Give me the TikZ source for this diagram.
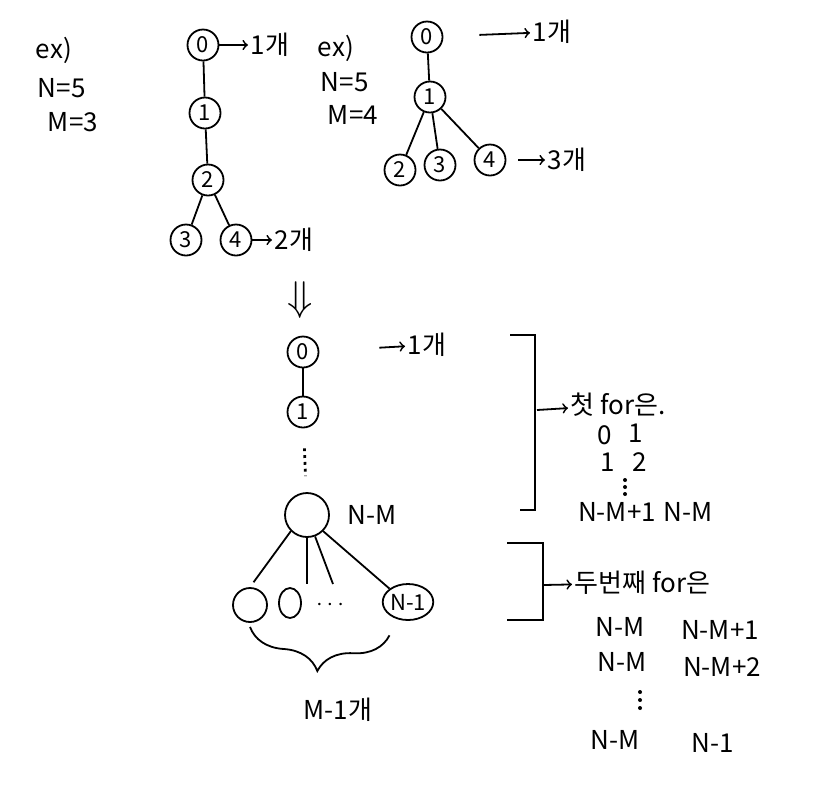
\documentclass[tikz,border=0pt]{standalone}
\usepackage{fontspec}
\setmainfont{Noto Sans CJK KR}
\usetikzlibrary{decorations.pathreplacing,shapes.geometric}
\begin{document}
\begin{tikzpicture}[x=0.5pt,y=-0.5pt,line width=0.9pt,
		vert/.style={draw,circle,minimum size=15.5pt,inner sep=0pt,font=\fontsize{11}{13}\selectfont},
		txt/.style={font=\fontsize{13}{15}\selectfont,inner sep=1pt}]
		\useasboundingbox (0,0) rectangle (828,799);

		% first example
		\node[txt,anchor=west] (ex1) at (33,50) {ex)};
		\node[txt,anchor=west] (n1) at (35,88) {N=5};
		\node[txt,anchor=west] (m1) at (45,122) {M=3};

		\node[vert] (a0) at (203,45) {0};
		\node[vert] (a1) at (205,113) {1};
		\node[vert] (a2) at (208,180) {2};
		\node[vert] (a3) at (186,240) {3};
		\node[vert] (a4) at (236,240) {4};
		\draw (a0) -- (a1) -- (a2);
		\draw (a2) -- (a3);
		\draw (a2) -- (a4);
		\node[txt,anchor=west] (c1) at (248,45) {1개};
		\draw[->] (a0) -- (c1);
		\node[txt,anchor=west] (c2) at (272,240) {2개};
		\draw[->] (a4) -- (c2);

		% second example
		\node[txt,anchor=west] (ex2) at (315,48) {ex)};
		\node[txt,anchor=west] (n2) at (318,82) {N=5};
		\node[txt,anchor=west] (m2) at (325,115) {M=4};

		\node[vert] (b0) at (427,37) {0};
		\node[vert] (b1) at (430,97) {1};
		\node[vert] (b2) at (400,170) {2};
		\node[vert] (b3) at (440,165) {3};
		\node[vert] (b4) at (490,160) {4};
		\draw (b0) -- (b1);
		\draw (b1) -- (b2);
		\draw (b1) -- (b3);
		\draw (b1) -- (b4);
		\node[txt,anchor=west] (c3) at (530,32) {1개};
		\draw[->,shorten <=18pt] (b0) -- (c3);
		\node[txt,anchor=west] (c4) at (545,160) {3개};
		\draw[->,shorten <=6pt] (b4) -- (c4);

		% general case
		\node[font=\huge] (dn) at (300,300) {$\Downarrow$};

		\node[vert] (d0) at (303,352) {0};
		\node[vert] (d1) at (303,412) {1};
		\node[vert,minimum size=22pt] (dm) at (307,515) {};
		\draw (d0) -- (d1);
		\draw[dotted,line width=1.4pt,shorten <=10pt,shorten >=8pt] (d1) -- (dm);
		\node[txt,anchor=west] (lnm) at (345,515) {N-M};
		\node[txt,anchor=west] (c5) at (405,345) {1개};
		\draw[->,shorten <=30pt] (d0) -- (c5);

		\node[vert,minimum size=17pt] (e1) at (250,605) {};
		\node[draw,ellipse,minimum width=11pt,minimum height=15pt,inner sep=0pt] (e2) at (290,603) {};
		\node[txt] (e3) at (330,605) {$\cdots$};
		\node[draw,ellipse,minimum width=20pt,minimum height=18pt,inner sep=0pt,font=\fontsize{11}{13}\selectfont] (e4) at (408,602) {N-1};
		\coordinate (k1) at (307,584);
		\coordinate (k2) at (333,584);
		\draw[shorten >=3pt] (dm.225) -- (e1.north);
		\draw (dm) -- (k1);
		\draw (dm) -- (k2);
		\draw (dm.south east) -- (e4.north west);
		\draw[decorate,decoration={brace,mirror,amplitude=20pt}] ([yshift=-2pt]e1.south) -- ([yshift=-10pt]e4.south west);
		\node[txt] (cnt) at (338,710) {M-1개};

		% first for
		\draw (510,335) -- (535,335) -- (535,510) -- (520,510);
		\coordinate (br1) at (537,410);
		\node[txt,anchor=west] (f1) at (568,405) {첫 for은.};
		\draw[->] (br1) -- (f1);
		\node[txt] (p1) at (605,435) {0};
		\node[txt] (q1) at (636,433) {1};
		\node[txt] (p2) at (608,462) {1};
		\node[txt] (q2) at (640,462) {2};
		\foreach \y in {480,487,494}
			\fill (625,\y) circle (1pt);
		\node[txt] (p3) at (617,512) {N-M+1};
		\node[txt] (q3) at (688,512) {N-M};

		% second for
		\draw (507,543) -- (543,543) -- (543,620) -- (507,620);
		\coordinate (br2) at (543,585);
		\node[txt,anchor=west] (f2) at (572,583) {두번째 for은};
		\draw[->] (br2) -- (f2);
		\node[txt] (r1) at (620,627) {N-M};
		\node[txt] (s1) at (720,630) {N-M+1};
		\node[txt] (r2) at (622,662) {N-M};
		\node[txt] (s2) at (722,667) {N-M+2};
		\foreach \y in {692,700,708}
			\fill (640,\y) circle (1pt);
		\node[txt] (r3) at (615,740) {N-M};
		\node[txt] (s3) at (713,743) {N-1};
	\end{tikzpicture}
\end{document}
